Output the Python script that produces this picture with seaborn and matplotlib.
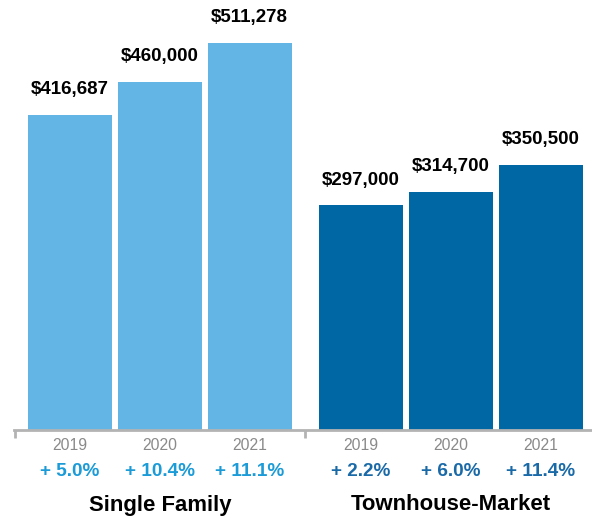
import matplotlib
matplotlib.use("Agg")
import matplotlib.pyplot as plt
import matplotlib.transforms as mtransforms
import numpy as np
import pandas as pd
import seaborn as sns

groups = ["Single Family", "Townhouse-Market"]
years = ["2019", "2020", "2021"]
single_family = [416687, 460000, 511278]
townhouse = [297000, 314700, 350500]
single_family_change = ["+ 5.0%", "+ 10.4%", "+ 11.1%"]
townhouse_change = ["+ 2.2%", "+ 6.0%", "+ 11.4%"]

bar_colors = ["#62b5e5", "#0067a5"]
pct_colors = ["#1b9bd7", "#1a6aa8"]
gap = 1.24  # spacing between the two groups (in bar slots)

rows = []
for g, (vals, chg) in enumerate([(single_family, single_family_change),
                                 (townhouse, townhouse_change)]):
    for i, yr in enumerate(years):
        rows.append({"pos": g * (2 + gap) + i, "group": groups[g], "year": yr,
                     "price": vals[i], "change": chg[i]})
df = pd.DataFrame(rows)

sns.set_theme(style="white")
plt.rcParams["font.family"] = ["Liberation Sans", "DejaVu Sans"]

fig = plt.figure(figsize=(5.92, 5.20), dpi=100)
ax = fig.add_axes([14 / 592, 90 / 520, 578 / 592, 430 / 520])

sns.barplot(data=df, x="pos", y="price", hue="group", palette=bar_colors,
            native_scale=True, width=0.93, dodge=False, legend=False,
            saturation=1, edgecolor="none", ax=ax)

ax.set_xlim(-0.624, 5.81)
ax.set_ylim(0, df["price"].max() * 430 / 387)
ax.set_xlabel("")
ax.set_ylabel("")
ax.set_yticks([])
for s in ["top", "right", "left"]:
    ax.spines[s].set_visible(False)
ax.spines["bottom"].set_color("#b3b3b3")
ax.spines["bottom"].set_linewidth(2)
ax.set_xticks([-0.615, 2.62])
ax.set_xticklabels([])
ax.tick_params(axis="x", bottom=True, length=6, width=2, color="#b3b3b3",
               direction="out")

# value labels above bars
for _, r in df.iterrows():
    ax.annotate(f"${r['price']:,.0f}", (r["pos"], r["price"]),
                xytext=(0, 12), textcoords="offset points",
                ha="center", va="bottom", fontsize=13.5, fontweight="bold",
                color="black")

trans = mtransforms.blended_transform_factory(ax.transData, fig.transFigure)
for _, r in df.iterrows():
    g = groups.index(r["group"])
    ax.text(r["pos"], (520 - 446) / 520, r["year"], transform=trans,
            ha="center", va="center", fontsize=11.3, color="#8a8a8a")
    ax.text(r["pos"], (520 - 471) / 520, r["change"], transform=trans,
            ha="center", va="center", fontsize=13.7, fontweight="bold",
            color=pct_colors[g])

for g, name in enumerate(groups):
    center = df.loc[df["group"] == name, "pos"].mean()
    ax.text(center, (520 - 505) / 520, name, transform=trans,
            ha="center", va="center", fontsize=15.9, fontweight="bold",
            color="black")

fig.savefig("out.png", dpi=100)
